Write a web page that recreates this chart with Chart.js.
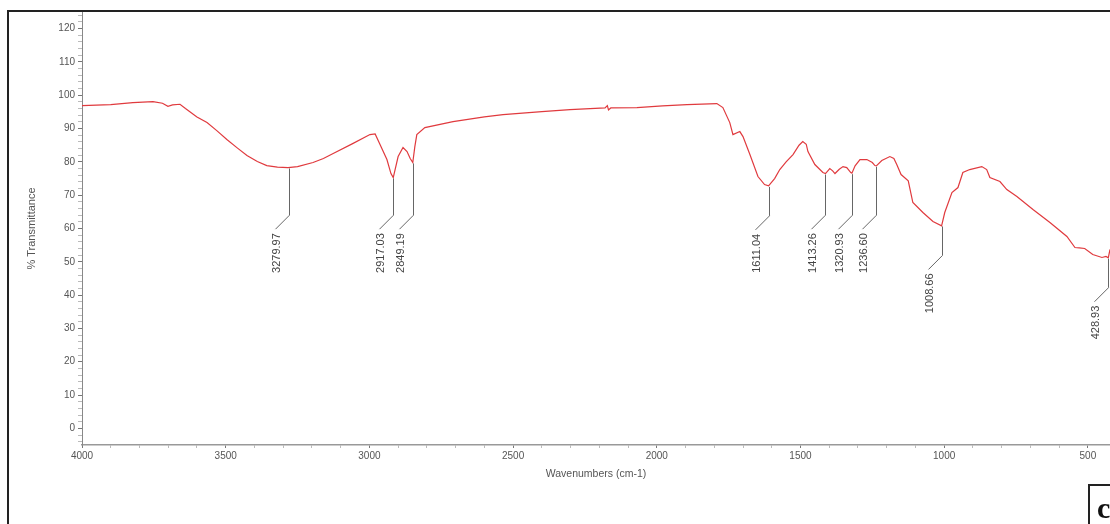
<!DOCTYPE html>
<html>
<head>
<meta charset="utf-8">
<script src="https://cdn.jsdelivr.net/npm/chart.js@4"></script>
<style>
  body { margin: 0; background: #fff; }
  #wrap { width: 1110px; height: 524px; position: relative; }
</style>
</head>
<body>
<div id="wrap"><canvas id="ftirChart" width="1110" height="524"></canvas></div>
<script>
// spectrum (cm-1 , %T)
const wavenumbers = [
    4000, 3900, 3823, 3753, 3720, 3701, 3685, 3659, 3640, 3600,
    3565, 3530, 3496, 3460, 3426, 3390, 3357, 3320, 3283, 3250,
    3196, 3160, 3126, 3060, 2998, 2980, 2963, 2939, 2925, 2917,
    2900, 2883, 2869, 2858, 2849, 2842, 2835, 2807, 2709, 2600,
    2535, 2400, 2302, 2180, 2172, 2168, 2160, 2069, 1980, 1895,
    1791, 1770, 1746, 1735, 1711, 1700, 1676, 1648, 1625, 1611,
    1590, 1572, 1550, 1526, 1505, 1492, 1480, 1474, 1450, 1422,
    1413, 1398, 1388, 1380, 1365, 1352, 1339, 1325, 1321, 1310,
    1293, 1269, 1250, 1241, 1236, 1217, 1189, 1175, 1165, 1150,
    1125, 1109, 1074, 1039, 1009, 998, 973, 952, 935, 911,
    869, 852, 841, 806, 782, 747, 691, 632, 573, 545,
    530, 511, 483, 451, 437, 429, 423
];
const transmittance = [
    96.9, 97.2, 97.8, 98.1, 97.6, 96.7, 97.1, 97.3, 96.0, 93.5,
    91.8, 89.3, 86.7, 84.2, 81.9, 80.1, 78.9, 78.4, 78.3, 78.6,
    79.8, 81.0, 82.5, 85.4, 88.2, 88.4, 85.2, 80.7, 76.5, 75.3,
    81.6, 84.3, 83.1, 81.0, 79.8, 84.5, 88.2, 90.3, 92.1, 93.5,
    94.2, 95.1, 95.7, 96.2, 96.9, 95.6, 96.2, 96.3, 96.8, 97.2,
    97.5, 96.3, 91.8, 88.2, 89.1, 87.6, 82.2, 75.6, 73.2, 72.8,
    75.0, 77.7, 80.0, 82.2, 85.0, 86.1, 85.3, 83.1, 79.2, 76.8,
    76.5, 78.0, 77.3, 76.5, 77.8, 78.6, 78.3, 76.8, 76.6, 78.8,
    80.7, 80.7, 79.8, 78.9, 78.8, 80.4, 81.6, 81.0, 79.2, 76.2,
    74.3, 67.8, 64.8, 62.1, 60.8, 64.8, 70.8, 72.3, 76.8, 77.7,
    78.6, 77.7, 75.3, 74.1, 71.7, 69.6, 65.7, 61.8, 57.6, 54.3,
    54.2, 54.0, 52.2, 51.3, 51.6, 51.2, 53.7
];
const peaks = [3279.97, 2917.03, 2849.19, 1611.04, 1413.26, 1320.93, 1236.60, 1008.66, 428.93];
const xTickLabels = [4000, 3500, 3000, 2500, 2000, 1500, 1000, 500];
const yTickLabels = [0, 10, 20, 30, 40, 50, 60, 70, 80, 90, 100, 110, 120];

// minor ticks (every 100 cm-1 and every 2 %T)
const xMinor = [];
for (let v = 500; v <= 4000; v += 100) xMinor.push(v);
const yMinor = [];
for (let v = -4; v <= 124; v += 2) yMinor.push(v);

function valueAt(w) {
    for (let i = 0; i < wavenumbers.length - 1; i++) {
        const a = wavenumbers[i], b = wavenumbers[i + 1];
        if (w <= a && w >= b) {
            const t = (a - w) / (a - b);
            return transmittance[i] + t * (transmittance[i + 1] - transmittance[i]);
        }
    }
    return transmittance[transmittance.length - 1];
}

const peakLabels = {
    id: 'peakLabels',
    afterDatasetsDraw(chart) {
        const ctx = chart.ctx;
        const xs = chart.scales.x, ys = chart.scales.y;
        ctx.save();
        ctx.strokeStyle = '#666';
        ctx.lineWidth = 1;
        ctx.fillStyle = '#444';
        ctx.font = '11px "Liberation Sans", Arial, sans-serif';
        peaks.forEach(p => {
            const x = Math.round(xs.getPixelForValue(p)) + 0.5;
            const y = ys.getPixelForValue(valueAt(p));
            const yEnd = Math.max(ys.getPixelForValue(64), y + 30);
            ctx.beginPath();
            ctx.moveTo(x, y + 1);
            ctx.lineTo(x, yEnd);
            ctx.lineTo(x - 14, yEnd + 14);
            ctx.stroke();
            ctx.save();
            ctx.translate(x - 13, yEnd + 18);
            ctx.rotate(-Math.PI / 2);
            ctx.textAlign = 'right';
            ctx.textBaseline = 'middle';
            ctx.fillText(p.toFixed(2), 0, 0);
            ctx.restore();
        });
        ctx.restore();
    },
    afterDraw(chart) {
        const ctx = chart.ctx;
        ctx.save();
        ctx.strokeStyle = '#222';
        ctx.lineWidth = 2;
        ctx.beginPath();
        ctx.moveTo(8, 524);
        ctx.lineTo(8, 11);
        ctx.lineTo(1110, 11);
        ctx.stroke();
        // panel letter box
        ctx.beginPath();
        ctx.moveTo(1089, 524);
        ctx.lineTo(1089, 485);
        ctx.lineTo(1110, 485);
        ctx.stroke();
        ctx.fillStyle = '#111';
        ctx.font = 'bold 30px "Liberation Serif", "Times New Roman", serif';
        ctx.textAlign = 'left';
        ctx.textBaseline = 'alphabetic';
        ctx.fillText('c', 1097, 518);
        ctx.restore();
    }
};

const ctx = document.getElementById('ftirChart').getContext('2d');

const myChart = new Chart(ctx, {
    type: 'line',
    data: {
        datasets: [{
            label: '% Transmittance',
            data: wavenumbers.map((w, i) => ({ x: w, y: transmittance[i] })),
            borderColor: '#e03a3e',
            borderWidth: 1.2,
            pointRadius: 0,
            tension: 0,
            fill: false
        }]
    },
    options: {
        responsive: false,
        animation: false,
        layout: {
            autoPadding: false,
            padding: { top: 12, left: 0, right: 0, bottom: 0 }
        },
        scales: {
            x: {
                type: 'linear',
                reverse: true,
                min: 423,
                max: 4000,
                afterBuildTicks: (s) => { s.ticks = xMinor.map(v => ({ value: v })); },
                afterFit: (s) => { s.height = 79; },
                border: { color: '#999', width: 1.5 },
                grid: {
                    drawOnChartArea: false,
                    tickLength: 3,
                    tickColor: (c) => xTickLabels.includes(c.tick.value) ? '#777' : '#bbb'
                },
                ticks: {
                    autoSkip: false,
                    maxRotation: 0,
                    padding: 2,
                    color: '#555',
                    font: { size: 10, family: '"Liberation Sans", Arial, sans-serif' },
                    callback: (v) => xTickLabels.includes(v) ? String(v) : ''
                },
                title: {
                    display: true,
                    text: 'Wavenumbers (cm-1)',
                    color: '#555',
                    font: { size: 10.5, family: '"Liberation Sans", Arial, sans-serif' },
                    padding: { top: 0, bottom: 44 }
                }
            },
            y: {
                min: -5,
                max: 125,
                afterBuildTicks: (s) => { s.ticks = yMinor.map(v => ({ value: v })); },
                afterFit: (s) => { s.width = 82; },
                border: { color: '#888', width: 1 },
                grid: {
                    drawOnChartArea: false,
                    tickLength: 4,
                    tickColor: (c) => yTickLabels.includes(c.tick.value) ? '#777' : '#bbb'
                },
                ticks: {
                    autoSkip: false,
                    padding: 3,
                    color: '#555',
                    font: { size: 10, family: '"Liberation Sans", Arial, sans-serif' },
                    callback: (v) => yTickLabels.includes(v) ? String(v) : ''
                },
                title: {
                    display: true,
                    text: '% Transmittance',
                    color: '#555',
                    font: { size: 11, family: '"Liberation Sans", Arial, sans-serif' },
                    padding: { top: 25, bottom: 0 }
                }
            }
        },
        plugins: {
            legend: { display: false },
            tooltip: { enabled: false },
            title: { display: false }
        }
    },
    plugins: [peakLabels]
});
</script>
</body>
</html>
